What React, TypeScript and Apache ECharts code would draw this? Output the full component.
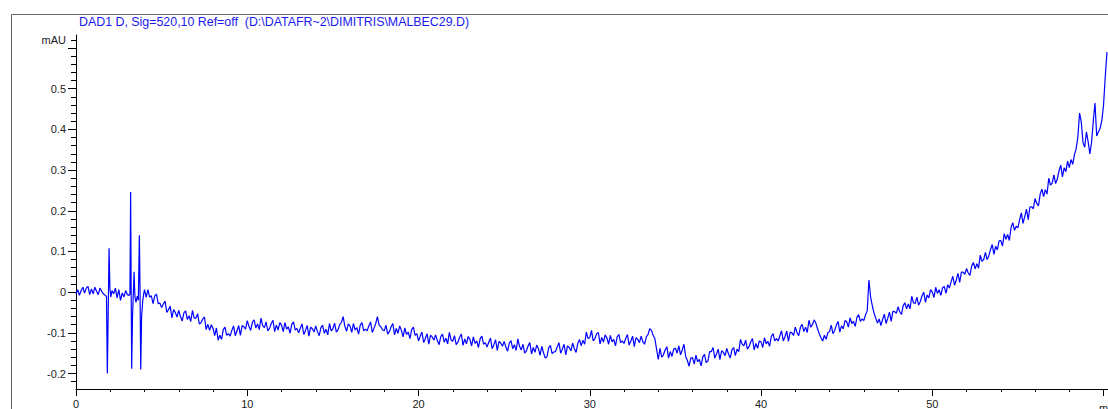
import React, { useEffect, useRef } from "react";
import * as echarts from "echarts";

const titleText = "DAD1 D, Sig=520,10 Ref=off  (D:\\DATAFR~2\\DIMITRIS\\MALBEC29.D)";
const yUnit = "mAU";
const xUnit = "min";

// [time (min), signal (mAU)] around the injection spikes
const injectionTrace: [number, number][] = [
  [0, -0.004], [0.1, 0.006], [0.2, -0.008], [0.3, 0.004], [0.4, 0.012], [0.5, -0.002], [0.6, 0.01],
  [0.7, 0.014], [0.8, -0.006], [0.9, 0.008], [1.0, -0.004], [1.1, 0.012], [1.2, 0.002], [1.3, -0.006],
  [1.4, 0.01], [1.5, 0.002], [1.6, -0.004], [1.7, -0.008], [1.78, -0.01],
  [1.83, -0.2], [1.88, -0.05], [1.93, 0.108], [1.98, 0.01], [2.03, -0.012],
  [2.1, 0.004], [2.2, -0.004], [2.3, 0.01], [2.4, -0.014], [2.5, 0.006], [2.6, -0.02], [2.7, -0.002],
  [2.8, -0.012], [2.9, 0.004], [3.0, -0.006], [3.1, -0.008],
  [3.15, -0.005], [3.19, 0.246], [3.22, 0.02], [3.25, -0.188], [3.3, -0.06], [3.35, 0.0], [3.39, 0.05],
  [3.44, -0.01], [3.5, -0.025], [3.58, -0.01], [3.64, -0.02], [3.7, 0.14], [3.74, 0.0], [3.78, -0.19],
  [3.83, -0.06], [3.9, -0.02], [3.95, -0.005],
];

// regularly sampled signal from 4.0 min, one value every 0.1 min (rows = one minute)
const baselineStart = 4.0;
const baselineStep = 0.1;
const baselineValues: number[] = [
  0.006, -0.013, 0.006, -0.012, -0.009, -0.028, -0.009, -0.005, -0.028, -0.027,
  -0.038, -0.029, -0.022, -0.050, -0.043, -0.034, -0.063, -0.043, -0.050, -0.061,
  -0.045, -0.060, -0.071, -0.051, -0.046, -0.067, -0.058, -0.072, -0.045, -0.064,
  -0.064, -0.053, -0.078, -0.075, -0.066, -0.061, -0.092, -0.079, -0.094, -0.080,
  -0.089, -0.107, -0.088, -0.118, -0.106, -0.116, -0.092, -0.086, -0.106, -0.102,
  -0.108, -0.094, -0.083, -0.107, -0.095, -0.082, -0.106, -0.082, -0.085, -0.091,
  -0.070, -0.084, -0.094, -0.074, -0.068, -0.088, -0.078, -0.092, -0.064, -0.082,
  -0.087, -0.073, -0.095, -0.089, -0.077, -0.069, -0.097, -0.081, -0.093, -0.075,
  -0.081, -0.097, -0.075, -0.091, -0.085, -0.101, -0.079, -0.073, -0.093, -0.089,
  -0.100, -0.088, -0.078, -0.104, -0.094, -0.082, -0.108, -0.086, -0.090, -0.098,
  -0.083, -0.097, -0.107, -0.087, -0.081, -0.101, -0.091, -0.105, -0.077, -0.095,
  -0.090, -0.076, -0.098, -0.092, -0.080, -0.074, -0.060, -0.084, -0.096, -0.078,
  -0.083, -0.099, -0.077, -0.093, -0.087, -0.103, -0.081, -0.075, -0.095, -0.091,
  -0.095, -0.083, -0.073, -0.099, -0.089, -0.077, -0.060, -0.081, -0.085, -0.093,
  -0.095, -0.081, -0.103, -0.097, -0.085, -0.077, -0.105, -0.089, -0.101, -0.083,
  -0.094, -0.110, -0.088, -0.104, -0.098, -0.114, -0.092, -0.086, -0.106, -0.102,
  -0.120, -0.108, -0.098, -0.124, -0.114, -0.102, -0.128, -0.106, -0.110, -0.118,
  -0.105, -0.119, -0.129, -0.109, -0.103, -0.123, -0.113, -0.127, -0.099, -0.117,
  -0.121, -0.107, -0.129, -0.123, -0.111, -0.103, -0.131, -0.115, -0.127, -0.109,
  -0.116, -0.132, -0.110, -0.126, -0.120, -0.136, -0.114, -0.108, -0.128, -0.124,
  -0.135, -0.123, -0.113, -0.139, -0.129, -0.117, -0.143, -0.121, -0.125, -0.133,
  -0.121, -0.135, -0.145, -0.125, -0.119, -0.139, -0.129, -0.143, -0.115, -0.133,
  -0.142, -0.128, -0.150, -0.144, -0.132, -0.124, -0.152, -0.136, -0.148, -0.130,
  -0.139, -0.155, -0.133, -0.149, -0.162, -0.159, -0.137, -0.131, -0.151, -0.147,
  -0.146, -0.134, -0.124, -0.150, -0.140, -0.128, -0.154, -0.132, -0.136, -0.144,
  -0.125, -0.139, -0.148, -0.126, -0.116, -0.132, -0.118, -0.128, -0.098, -0.114,
  -0.112, -0.094, -0.120, -0.114, -0.102, -0.099, -0.127, -0.111, -0.123, -0.105,
  -0.112, -0.128, -0.106, -0.122, -0.116, -0.132, -0.110, -0.104, -0.124, -0.120,
  -0.126, -0.114, -0.104, -0.130, -0.120, -0.108, -0.134, -0.112, -0.116, -0.124,
  -0.108, -0.122, -0.128, -0.110, -0.104, -0.090, -0.094, -0.106, -0.114, -0.140,
  -0.165, -0.138, -0.160, -0.154, -0.142, -0.134, -0.162, -0.146, -0.158, -0.140,
  -0.138, -0.150, -0.132, -0.154, -0.142, -0.128, -0.158, -0.168, -0.182, -0.162,
  -0.161, -0.177, -0.155, -0.171, -0.165, -0.181, -0.159, -0.153, -0.173, -0.169,
  -0.146, -0.146, -0.136, -0.162, -0.152, -0.140, -0.166, -0.144, -0.148, -0.156,
  -0.138, -0.152, -0.162, -0.142, -0.136, -0.156, -0.140, -0.146, -0.116, -0.128,
  -0.132, -0.118, -0.140, -0.134, -0.122, -0.114, -0.142, -0.126, -0.138, -0.120,
  -0.122, -0.136, -0.112, -0.127, -0.121, -0.133, -0.109, -0.102, -0.120, -0.114,
  -0.120, -0.107, -0.095, -0.120, -0.109, -0.096, -0.121, -0.098, -0.100, -0.106,
  -0.086, -0.099, -0.107, -0.086, -0.079, -0.097, -0.086, -0.099, -0.069, -0.086,
  -0.080, -0.068, -0.076, -0.090, -0.102, -0.112, -0.120, -0.106, -0.116, -0.100,
  -0.097, -0.081, -0.102, -0.094, -0.081, -0.072, -0.098, -0.083, -0.090, -0.070,
  -0.072, -0.086, -0.063, -0.077, -0.072, -0.084, -0.062, -0.055, -0.072, -0.066,
  -0.070, -0.056, -0.046, 0.030, -0.012, -0.034, -0.052, -0.064, -0.076, -0.066,
  -0.082, -0.067, -0.054, -0.077, -0.064, -0.049, -0.072, -0.047, -0.048, -0.052,
  -0.036, -0.048, -0.055, -0.033, -0.026, -0.041, -0.029, -0.041, -0.010, -0.026,
  -0.028, -0.012, -0.032, -0.023, -0.009, 0.000, -0.025, -0.007, -0.014, 0.006,
  0.000, -0.013, 0.012, -0.003, 0.006, -0.008, 0.011, 0.014, -0.003, 0.018,
  0.010, 0.026, 0.039, 0.017, 0.030, 0.046, 0.024, 0.049, 0.049, 0.044,
  0.058, 0.047, 0.041, 0.064, 0.073, 0.057, 0.070, 0.059, 0.091, 0.076,
  0.080, 0.098, 0.080, 0.089, 0.105, 0.117, 0.093, 0.113, 0.104, 0.126,
  0.127, 0.113, 0.144, 0.130, 0.142, 0.127, 0.159, 0.171, 0.152, 0.162,
  0.158, 0.178, 0.195, 0.169, 0.186, 0.204, 0.178, 0.209, 0.210, 0.205,
  0.230, 0.218, 0.212, 0.241, 0.253, 0.235, 0.252, 0.241, 0.280, 0.263,
  0.268, 0.288, 0.267, 0.278, 0.298, 0.312, 0.283, 0.306, 0.296, 0.322,
  0.306, 0.326, 0.314, 0.338, 0.352, 0.382, 0.440, 0.418, 0.368, 0.356,
  0.394, 0.370, 0.340, 0.368, 0.420, 0.465, 0.384, 0.394, 0.402, 0.422,
  0.460, 0.530, 0.590,
];

const xMajorTicks = [0, 10, 20, 30, 40, 50, 60];
const xMinorTicks = [0, 2, 4, 6, 8, 10, 12, 14, 16, 18, 20, 22, 24, 26, 28, 30, 32, 34, 36, 38, 40, 42, 44, 46, 48, 50, 52, 54, 56, 58, 60];
const xLabelTicks = [0, 10, 20, 30, 40, 50];
const yMajorTicks = [-0.2, -0.1, 0, 0.1, 0.2, 0.3, 0.4, 0.5, 0.6];
const yMinorTicks = [
  -0.22, -0.2, -0.18, -0.16, -0.14, -0.12, -0.1, -0.08, -0.06, -0.04, -0.02, 0, 0.02, 0.04, 0.06, 0.08,
  0.1, 0.12, 0.14, 0.16, 0.18, 0.2, 0.22, 0.24, 0.26, 0.28, 0.3, 0.32, 0.34, 0.36, 0.38, 0.4, 0.42,
  0.44, 0.46, 0.48, 0.5, 0.52, 0.54, 0.56, 0.58, 0.6, 0.62,
];
const yLabelTicks = [-0.2, -0.1, 0, 0.1, 0.2, 0.3, 0.4, 0.5, 0.62];

const FONT = "'Liberation Sans', Arial, sans-serif";

export default function App() {
  const ref = useRef<HTMLDivElement>(null);
  useEffect(() => {
    if (!ref.current) return;
    const chart = echarts.init(ref.current, undefined, { renderer: "svg" });
    const data: [number, number][] = [
      ...injectionTrace,
      ...baselineValues.map((v, i) => [Math.round((baselineStart + i * baselineStep) * 100) / 100, v] as [number, number]),
    ];
    const axisCommon = {
      type: "value" as const,
      splitLine: { show: false },
    };
    chart.setOption({
      animation: false,
      backgroundColor: "#ffffff",
      grid: { left: 76, right: 0, top: 35, bottom: 16.7, containLabel: false },
      xAxis: [
        {
          ...axisCommon,
          min: 0,
          max: 60.26,
          position: "bottom",
          axisLine: { show: true, onZero: false, lineStyle: { color: "#000", width: 1 } },
          axisTick: { show: true, customValues: xMinorTicks, length: 3, lineStyle: { color: "#000" } },
          axisLabel: {
            show: true,
            customValues: xLabelTicks,
            margin: 9,
            fontSize: 11,
            fontFamily: FONT,
            color: "#222",
            formatter: (v: number) => String(v),
          },
        },
        {
          ...axisCommon,
          min: 0,
          max: 60.26,
          position: "bottom",
          axisLine: { show: false, onZero: false },
          axisTick: { show: true, customValues: xMajorTicks, length: 7, lineStyle: { color: "#000" } },
          axisLabel: { show: false },
        },
      ],
      yAxis: [
        {
          ...axisCommon,
          min: -0.238,
          max: 0.632,
          position: "left",
          axisLine: { show: true, onZero: false, lineStyle: { color: "#000", width: 1 } },
          axisTick: { show: true, customValues: yMinorTicks, length: 5, lineStyle: { color: "#000" } },
          axisLabel: {
            show: true,
            customValues: yLabelTicks,
            margin: 10,
            fontSize: 11,
            fontFamily: FONT,
            color: "#222",
            formatter: (v: number) => (Math.abs(v - 0.62) < 1e-6 ? yUnit : String(Math.round(v * 10) / 10)),
          },
        },
        {
          ...axisCommon,
          min: -0.238,
          max: 0.632,
          position: "left",
          axisLine: { show: false, onZero: false },
          axisTick: { show: true, customValues: yMajorTicks, length: 8, lineStyle: { color: "#000" } },
          axisLabel: { show: false },
        },
      ],
      series: [
        {
          type: "line",
          xAxisIndex: 0,
          yAxisIndex: 0,
          data,
          showSymbol: false,
          symbol: "none",
          clip: false,
          lineStyle: { color: "#0000ff", width: 1.2 },
        },
      ],
      graphic: [
        { type: "line", silent: true, shape: { x1: 11.5, y1: 14.5, x2: 1108, y2: 14.5 }, style: { stroke: "#666", lineWidth: 1 } },
        { type: "line", silent: true, shape: { x1: 11.5, y1: 14.5, x2: 11.5, y2: 409 }, style: { stroke: "#666", lineWidth: 1 } },
        {
          type: "text",
          x: 79,
          y: 22,
          style: { text: titleText, fill: "#1a1aee", font: `12.4px ${FONT}`, verticalAlign: "middle", align: "left" },
        },
        {
          type: "text",
          x: 1099,
          y: 402,
          style: { text: xUnit, fill: "#222", font: `11px ${FONT}`, verticalAlign: "top", align: "left" },
        },
      ],
    });
    return () => chart.dispose();
  }, []);
  return <div ref={ref} style={{ position: "fixed", left: 0, top: 0, width: 1108, height: 409 }} />;
}
